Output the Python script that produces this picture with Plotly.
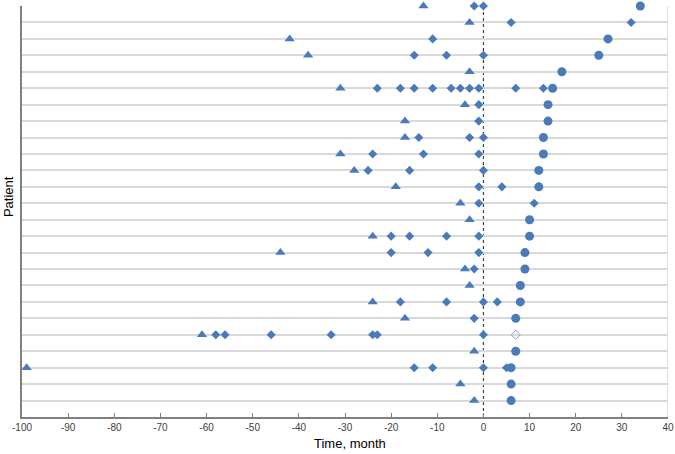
import plotly.graph_objects as go

# Patients numbered from bottom (1) to top (25); lists below ordered top -> bottom
patients = list(range(25, 0, -1))

triangle_x = [-13, -3, -42, -38, -3, -31, -4, -17, -17, -31, -28, -19, -5,
              -3, -24, -44, -4, -3, -24, -17, -61, -2, -99, -5, -2]

diamond_x = [
    [-2, 0],
    [6, 32],
    [-11],
    [-15, -8, 0],
    [],
    [-23, -18, -15, -11, -7, -5, -3, -1, 7, 13],
    [-1],
    [-1],
    [-14, -3, 0],
    [-24, -13, -1],
    [-25, -16, 0],
    [-1, 4],
    [-1, 11],
    [],
    [-20, -16, -8, -1],
    [-20, -12, -1],
    [-2],
    [],
    [-18, -8, 0, 3],
    [-2],
    [-58, -56, -46, -33, -24, -23, 0],
    [],
    [-15, -11, 0, 5],
    [],
    [],
]

circle_x = [34, None, 27, 25, 17, 15, 14, 14, 13, 13, 12, 12, None,
            10, 10, 9, 9, 8, 8, 7, None, 7, 6, 6, 6]

open_diamond_x = [None] * 20 + [7] + [None] * 4

x_ticks = list(range(-100, 41, 10))
x_tick_labels = [str(v) for v in x_ticks]

color = "#4a7ab9"

dx, dy = [], []
for p, row in zip(patients, diamond_x):
    for v in row:
        dx.append(v)
        dy.append(p)

cx = [v for v in circle_x if v is not None]
cy = [p for p, v in zip(patients, circle_x) if v is not None]
ox = [v for v in open_diamond_x if v is not None]
oy = [p for p, v in zip(patients, open_diamond_x) if v is not None]

fig = go.Figure()
fig.add_trace(go.Scatter(x=triangle_x, y=patients, mode="markers", cliponaxis=False,
                         marker=dict(symbol="triangle-up", size=9, color=color),
                         showlegend=False))
fig.add_trace(go.Scatter(x=dx, y=dy, mode="markers", cliponaxis=False,
                         marker=dict(symbol="diamond", size=7, color=color),
                         showlegend=False))
fig.add_trace(go.Scatter(x=cx, y=cy, mode="markers", cliponaxis=False,
                         marker=dict(symbol="circle", size=9, color=color),
                         showlegend=False))
fig.add_trace(go.Scatter(x=ox, y=oy, mode="markers", cliponaxis=False,
                         marker=dict(symbol="diamond-open", size=7, color="#7fa3d6",
                                     line=dict(width=1)),
                         showlegend=False))

fig.add_shape(type="line", x0=0, x1=0, y0=0, y1=25, xref="x", yref="y",
              line=dict(color="#404040", width=1.2, dash="dot"), layer="below")
fig.add_shape(type="line", x0=40, x1=40, y0=0, y1=25, xref="x", yref="y",
              line=dict(color="#d9d9d9", width=1.5), layer="below")

fig.add_annotation(text="Time, month", xref="paper", yref="paper", x=0.508, y=0,
                   xanchor="center", yanchor="middle", yshift=-26, showarrow=False,
                   font=dict(size=13, color="#000000"))
fig.add_annotation(text="Patient", xref="paper", yref="paper", x=0, y=0.535,
                   xanchor="center", yanchor="middle", xshift=-14, textangle=-90,
                   showarrow=False, font=dict(size=13, color="#000000"))

fig.update_layout(
    width=675, height=454,
    margin=dict(l=22, r=7, t=6, b=37, autoexpand=False),
    paper_bgcolor="white", plot_bgcolor="white",
    hovermode=False,
    font=dict(family="Liberation Sans, Arial, sans-serif", color="#404040"),
    xaxis=dict(range=[-100, 40], tickvals=x_ticks, ticktext=x_tick_labels,
               ticks="inside", ticklen=4, automargin=False,
               tickcolor="#808080", showgrid=False, zeroline=False,
               showline=True, linecolor="#808080", linewidth=1.5,
               tickfont=dict(size=10, color="#404040")),
    yaxis=dict(range=[0, 25], dtick=1, showticklabels=False, ticks="",
               automargin=False,
               showgrid=True, gridcolor="#d9d9d9", gridwidth=1.5,
               zeroline=False, showline=True, linecolor="#808080", linewidth=1.5),
)

fig.write_html("out.html", config={"displayModeBar": False},
               post_script="document.body.style.margin='0';")
